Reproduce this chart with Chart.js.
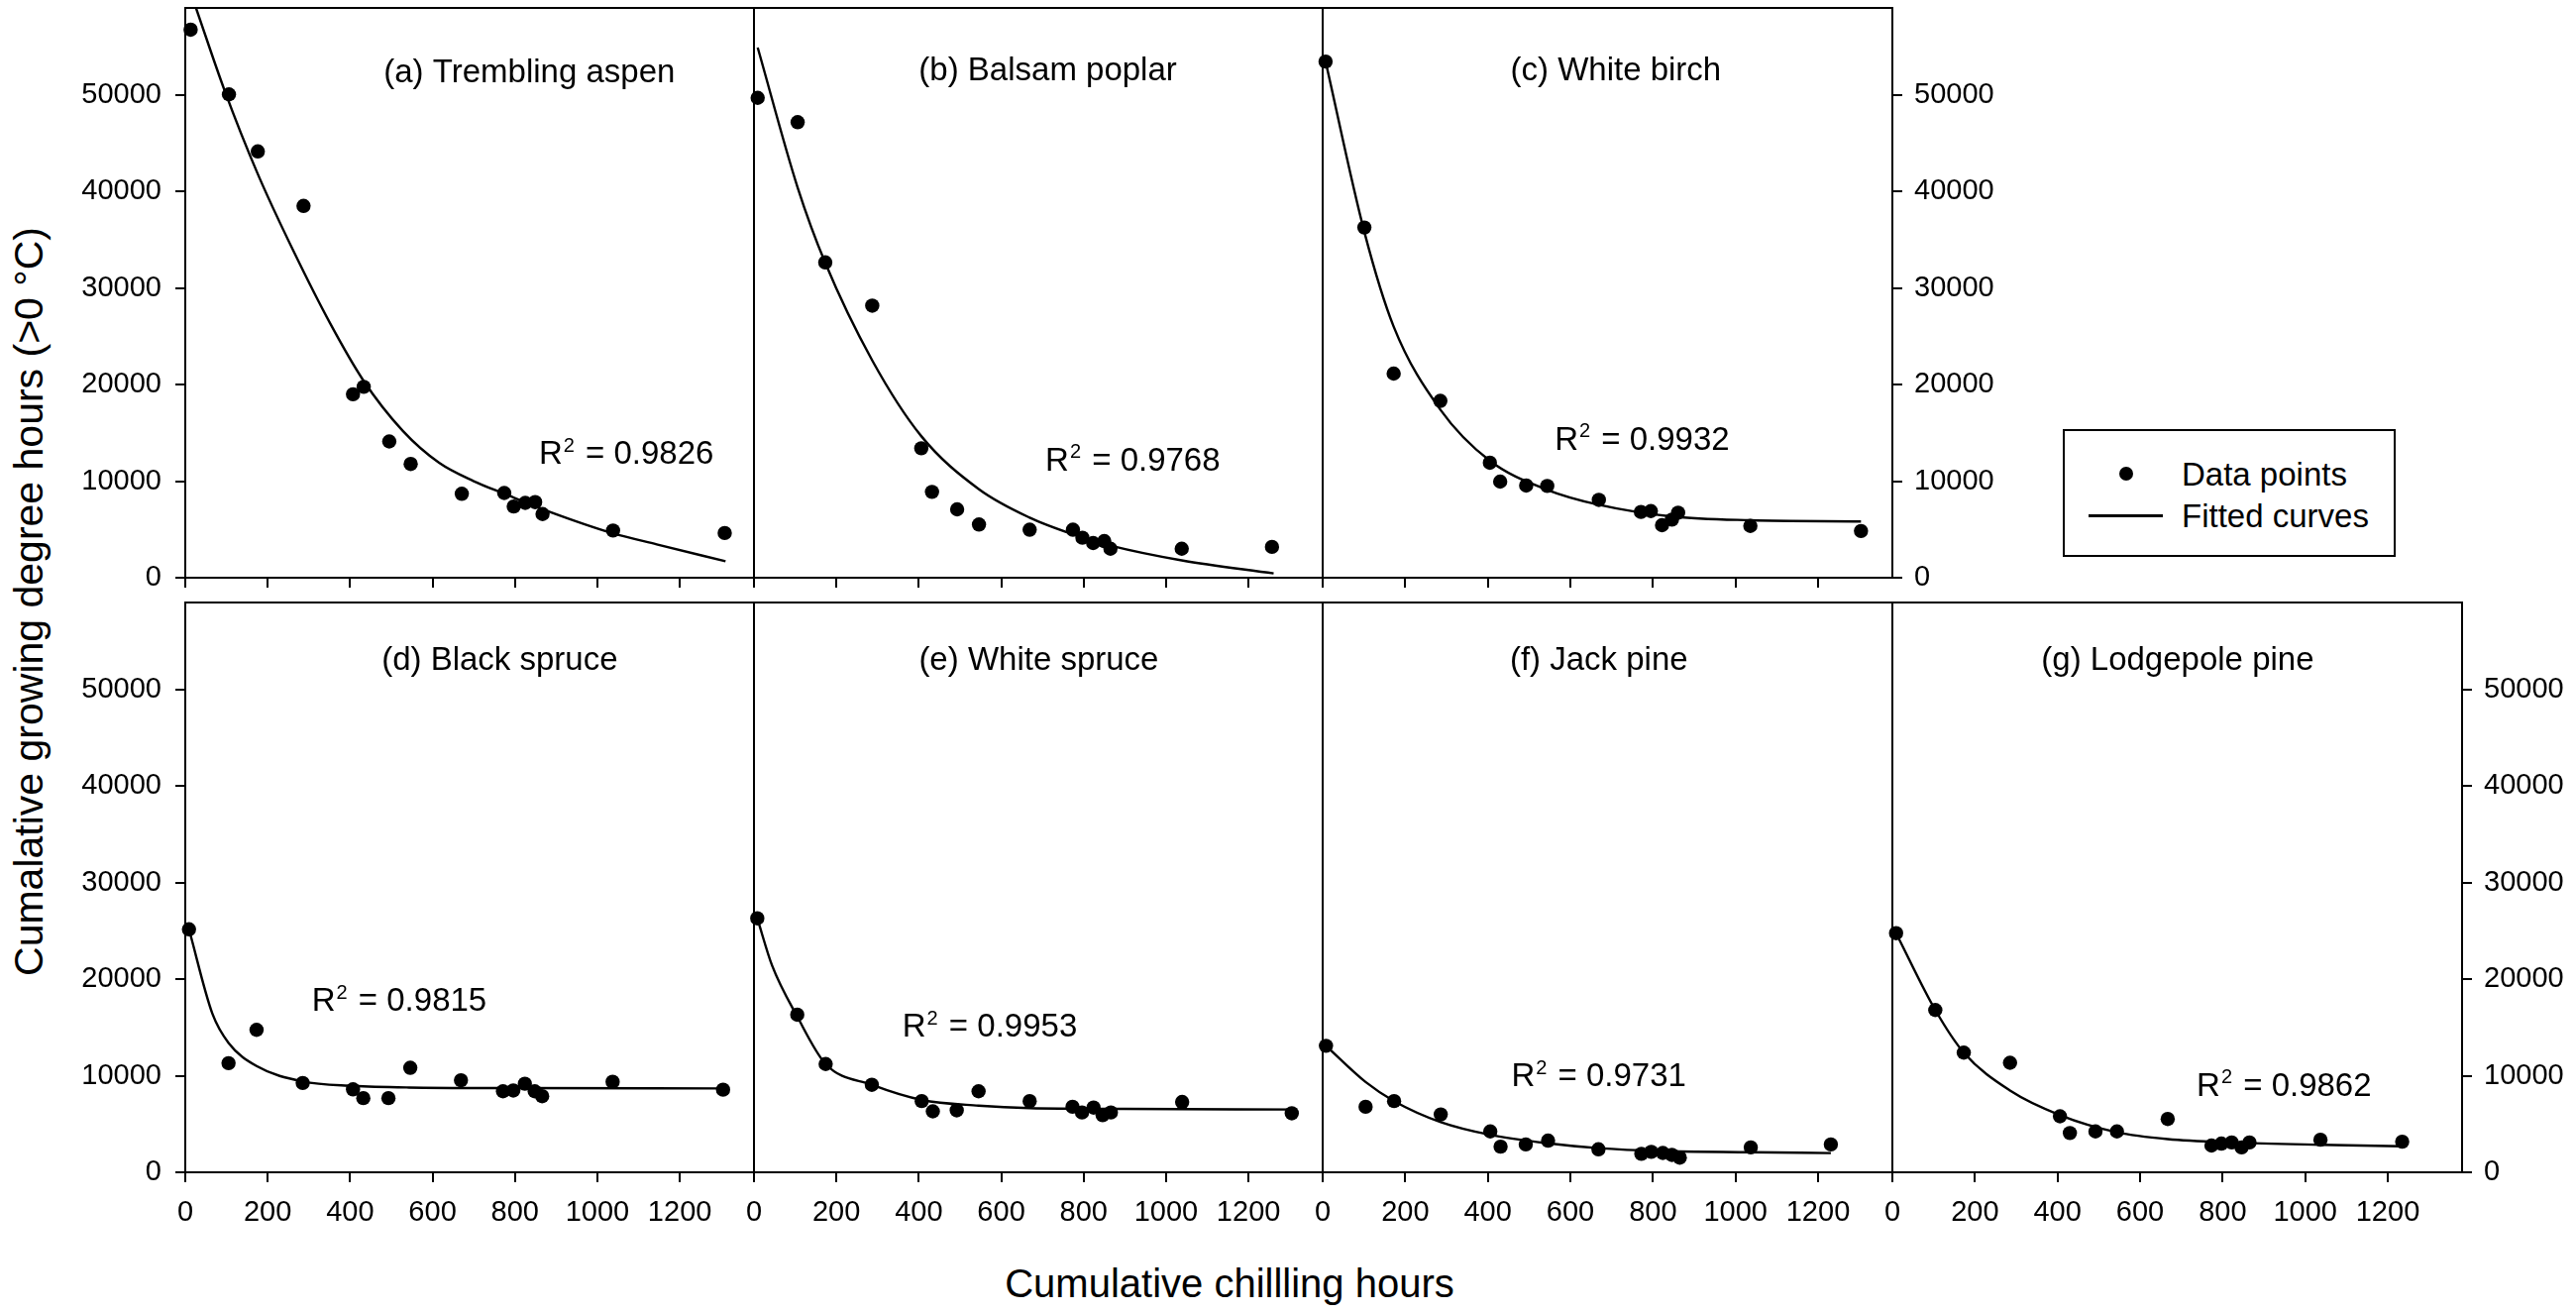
<!DOCTYPE html>
<html>
<head>
<meta charset="utf-8">
<title>Chilling hours vs growing degree hours</title>
<script src="https://cdn.jsdelivr.net/npm/chart.js@4.4.1/dist/chart.umd.min.js"></script>
<style>
  html, body { margin: 0; padding: 0; background: #fff; }
  #fig { position: relative; width: 2600px; height: 1326px; overflow: hidden;
         font-family: "Liberation Sans", Arial, sans-serif; color: #000; }
  #fig canvas { position: absolute; left: 0; top: 0; }
  .ytitle { position: absolute; left: 29px; top: 607px; font-size: 41px; white-space: nowrap;
            transform: translate(-50%, -50%) rotate(-90deg); }
  .xtitle { position: absolute; left: 1241px; top: 1295px; font-size: 40px; white-space: nowrap;
            transform: translate(-50%, -50%); }
  .legend { position: absolute; left: 2082px; top: 433px; width: 336px; height: 129px;
            box-sizing: border-box; border: 2px solid #000; background: #fff; }
  .legend .dot { position: absolute; left: 55px; top: 36px; width: 14px; height: 14px;
                 border-radius: 50%; background: #000; }
  .legend .line { position: absolute; left: 24px; top: 84px; width: 75px; height: 2.5px; background: #000; }
  .legend .txt { position: absolute; left: 118px; font-size: 33px; line-height: 33px;
                 transform: translateY(-50%); white-space: nowrap; }
</style>
</head>
<body>
<div id="fig">
  <div class="ytitle">Cumalative growing degree hours (&gt;0 °C)</div>
  <div class="xtitle">Cumulative chillling hours</div>
  <div class="legend">
    <span class="dot"></span><span class="txt" style="top:43px">Data points</span>
    <span class="line"></span><span class="txt" style="top:85px">Fitted curves</span>
  </div>
</div>
<script>
// axes
const xTicks = [0, 200, 400, 600, 800, 1000, 1200];
const yTicks = [0, 10000, 20000, 30000, 40000, 50000];
const xMax = 1380;
const yMax = 59000;

const panelTitles = ['(a) Trembling aspen', '(b) Balsam poplar', '(c) White birch',
  '(d) Black spruce', '(e) White spruce', '(f) Jack pine', '(g) Lodgepole pine'];
const r2Values = ['0.9826', '0.9768', '0.9932', '0.9815', '0.9953', '0.9731', '0.9862'];

// (a) Trembling aspen
const aspenX = [13, 106, 176, 287, 407, 433, 495, 547, 671, 774, 797, 825, 849, 867, 1038, 1309];
const aspenY = [56750, 50050, 44140, 38500, 19000, 19760, 14110, 11780, 8690, 8770, 7380, 7750, 7830, 6590, 4890, 4630];
const aspenFitX = [26, 95, 176, 264, 352, 431, 528, 616, 700, 774, 880, 1038, 1144, 1311];
const aspenFitY = [59000, 50500, 41800, 33700, 26300, 20500, 15200, 11900, 10000, 8700, 6900, 4600, 3450, 1700];

// (b) Balsam poplar
const poplarX = [9, 106, 173, 287, 406, 432, 493, 546, 669, 774, 797, 823, 850, 865, 1038, 1257];
const poplarY = [49690, 47170, 32650, 28170, 13400, 8890, 7080, 5510, 4970, 4970, 4140, 3590, 3790, 3000, 3000, 3190];
const poplarFitX = [9, 106, 173, 287, 406, 546, 669, 777, 868, 1038, 1261];
const poplarFitY = [54900, 40400, 32600, 22500, 14660, 9160, 6220, 4450, 3300, 1800, 450];

// (c) White birch
const birchX = [7, 101, 172, 285, 405, 430, 493, 544, 669, 771, 795, 822, 846, 861, 1036, 1304];
const birchY = [53450, 36260, 21140, 18310, 11910, 9950, 9550, 9500, 8060, 6810, 6900, 5440, 6020, 6730, 5360, 4840];
const birchFitX = [7, 101, 172, 285, 405, 544, 669, 846, 1036, 1304];
const birchFitY = [53450, 35800, 26000, 17400, 12100, 9100, 7550, 6340, 5950, 5830];

// (d) Black spruce
const bSpruceX = [9, 105, 173, 285, 407, 432, 493, 546, 669, 771, 796, 824, 848, 866, 1037, 1305];
const bSpruceY = [25160, 11300, 14750, 9250, 8590, 7680, 7680, 10820, 9530, 8390, 8470, 9170, 8390, 7880, 9370, 8550];
const bSpruceFitX = [9, 66, 105, 173, 285, 407, 543, 800, 1305];
const bSpruceFitY = [25160, 16400, 13400, 11000, 9400, 8950, 8780, 8720, 8680];

// (e) White spruce
const wSpruceX = [8, 105, 174, 286, 407, 434, 492, 545, 669, 773, 796, 824, 846, 866, 1039, 1305];
const wSpruceY = [26300, 16320, 11210, 9060, 7370, 6310, 6420, 8390, 7370, 6780, 6190, 6700, 5920, 6190, 7280, 6110];
const wSpruceFitX = [8, 44, 105, 174, 286, 407, 545, 669, 898, 1305];
const wSpruceFitY = [26300, 21400, 16130, 11210, 9060, 7490, 6900, 6640, 6560, 6500];

// (f) Jack pine
const jackX = [8, 104, 173, 286, 406, 431, 492, 546, 668, 772, 796, 824, 846, 865, 1037, 1231];
const jackY = [13100, 6780, 7370, 5990, 4230, 2660, 2890, 3280, 2380, 1910, 2120, 2000, 1800, 1520, 2580, 2890];
const jackFitX = [8, 104, 173, 286, 406, 546, 668, 821, 1037, 1231];
const jackFitY = [13100, 9350, 7370, 5200, 3880, 3000, 2500, 2200, 2080, 1990];

// (g) Lodgepole pine
const lodgeX = [9, 104, 173, 285, 406, 430, 492, 544, 667, 773, 797, 822, 846, 865, 1037, 1235];
const lodgeY = [24760, 16800, 12390, 11340, 5800, 4070, 4230, 4230, 5520, 2770, 2970, 3090, 2580, 3090, 3370, 3170];
const lodgeFitX = [9, 104, 173, 285, 406, 544, 667, 822, 1037, 1235];
const lodgeFitY = [24760, 16800, 12390, 8460, 5920, 4150, 3440, 3090, 2850, 2700];

// page layout (pixels)
const colEdges = [187, 761, 1335, 1910, 2485];
const rowTops = [8, 608];
const rowBottoms = [583, 1183];
const Y_AXIS_W = 115;   // room given to a y axis with labels
const X_AXIS_H = 80;    // room given to every x axis
const FONT = '"Liberation Sans", Arial, sans-serif';

const panels = [
  { xs: aspenX, ys: aspenY, fx: aspenFitX, fy: aspenFitY, col: 0, row: 0, yAxis: 'left', titleAt: [835, 52230], r2At: [858, 12720] },
  { xs: poplarX, ys: poplarY, fx: poplarFitX, fy: poplarFitY, col: 1, row: 0, yAxis: null, titleAt: [713, 52400], r2At: [707, 12060] },
  { xs: birchX, ys: birchY, fx: birchFitX, fy: birchFitY, col: 2, row: 0, yAxis: 'right', titleAt: [710, 52400], r2At: [562, 14220] },
  { xs: bSpruceX, ys: bSpruceY, fx: bSpruceFitX, fy: bSpruceFitY, col: 0, row: 1, yAxis: 'left', titleAt: [763, 53000], r2At: [307, 17650] },
  { xs: wSpruceX, ys: wSpruceY, fx: wSpruceFitX, fy: wSpruceFitY, col: 1, row: 1, yAxis: null, titleAt: [691, 53000], r2At: [360, 14980] },
  { xs: jackX, ys: jackY, fx: jackFitX, fy: jackFitY, col: 2, row: 1, yAxis: null, titleAt: [669, 53000], r2At: [457, 9850] },
  { xs: lodgeX, ys: lodgeY, fx: lodgeFitX, fy: lodgeFitY, col: 3, row: 1, yAxis: 'right', titleAt: [691, 53000], r2At: [737, 8870] }
];

function toPoints(xs, ys) {
  return xs.map((x, i) => ({ x: x, y: ys[i] }));
}

// fixed axis sizes so the chart area lands exactly where the layout says
function fixedFit(size) {
  return function (scale) {
    if (scale.isHorizontal()) scale.height = size; else scale.width = size;
    scale.paddingLeft = scale.paddingRight = scale.paddingTop = scale.paddingBottom = 0;
  };
}

// frame, panel title and R² label
const panelDecor = {
  id: 'panelDecor',
  beforeDatasetsDraw(chart) {
    const { ctx, chartArea: a } = chart;
    ctx.save();
    ctx.strokeStyle = '#000';
    ctx.lineWidth = 2;
    ctx.strokeRect(a.left, a.top, a.right - a.left, a.bottom - a.top);
    ctx.restore();
  },
  afterDatasetsDraw(chart, args, opts) {
    const ctx = chart.ctx;
    const sx = chart.scales.x, sy = chart.scales.y;
    ctx.save();
    ctx.fillStyle = '#000';
    ctx.textBaseline = 'middle';
    ctx.font = '33px ' + FONT;
    ctx.textAlign = 'center';
    ctx.fillText(opts.title, sx.getPixelForValue(opts.titleAt[0]), sy.getPixelForValue(opts.titleAt[1]));

    let px = sx.getPixelForValue(opts.r2At[0]);
    const py = sy.getPixelForValue(opts.r2At[1]);
    ctx.textAlign = 'left';
    ctx.fillText('R', px, py);
    px += ctx.measureText('R').width + 1;
    ctx.font = '20px ' + FONT;
    ctx.fillText('2', px, py - 9);
    px += ctx.measureText('2').width + 2;
    ctx.font = '33px ' + FONT;
    ctx.fillText(' = ' + opts.r2, px, py);
    ctx.restore();
  }
};

const fig = document.getElementById('fig');

panels.forEach((p, i) => {
  const canvas = document.createElement('canvas');
  canvas.width = 2600;
  canvas.height = 1326;
  fig.appendChild(canvas);

  const tickGrid = { display: true, drawOnChartArea: false, drawTicks: true, tickLength: 10, color: '#000', lineWidth: 2 };
  const left = colEdges[p.col], right = colEdges[p.col + 1];
  const yW = p.yAxis ? Y_AXIS_W : 0;

  new Chart(canvas, {
    type: 'scatter',
    data: {
      datasets: [
        {
          label: 'Data points',
          data: toPoints(p.xs, p.ys),
          showLine: false,
          pointRadius: 7.2,
          pointHoverRadius: 7.2,
          backgroundColor: '#000',
          borderWidth: 0,
          clip: false
        },
        {
          label: 'Fitted curves',
          data: toPoints(p.fx, p.fy),
          showLine: true,
          pointRadius: 0,
          borderColor: '#000',
          borderWidth: 2.4,
          cubicInterpolationMode: 'monotone',
          fill: false,
          clip: 0
        }
      ]
    },
    options: {
      responsive: false,
      animation: false,
      events: [],
      layout: {
        padding: {
          left: p.yAxis === 'left' ? left - yW : left,
          right: p.yAxis === 'right' ? 2600 - right - yW : 2600 - right,
          top: rowTops[p.row],
          bottom: 1326 - rowBottoms[p.row] - X_AXIS_H
        }
      },
      plugins: {
        legend: { display: false },
        tooltip: { enabled: false },
        panelDecor: { title: panelTitles[i], r2: r2Values[i], titleAt: p.titleAt, r2At: p.r2At }
      },
      scales: {
        x: {
          type: 'linear',
          min: 0,
          max: xMax,
          afterBuildTicks: s => { s.ticks = xTicks.map(v => ({ value: v })); },
          afterFit: fixedFit(X_AXIS_H),
          grid: tickGrid,
          border: { display: false },
          ticks: {
            display: p.row === 1,
            padding: 14,
            autoSkip: false,
            maxRotation: 0,
            color: '#000',
            font: { size: 29, family: FONT },
            callback: v => String(v)
          }
        },
        y: {
          type: 'linear',
          min: 0,
          max: yMax,
          display: p.yAxis !== null,
          position: p.yAxis || 'left',
          afterBuildTicks: s => { s.ticks = yTicks.map(v => ({ value: v })); },
          afterFit: fixedFit(yW),
          grid: tickGrid,
          border: { display: false },
          ticks: {
            padding: p.yAxis === 'right' ? 12 : 14,
            color: '#000',
            font: { size: 29, family: FONT },
            callback: v => String(v)
          }
        }
      }
    },
    plugins: [panelDecor]
  });
});
</script>
</body>
</html>
